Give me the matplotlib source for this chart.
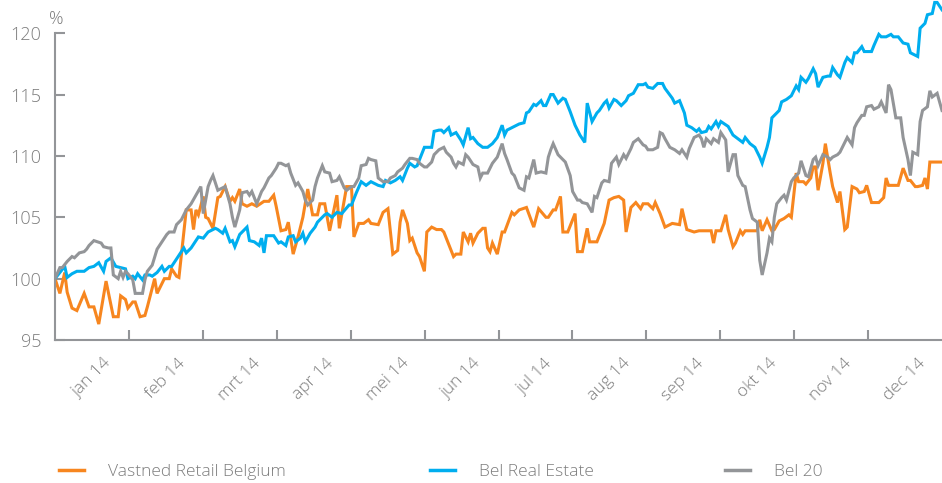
import matplotlib
matplotlib.use("Agg")
import matplotlib.pyplot as plt
from matplotlib.lines import Line2D

plt.rcParams['font.family'] = ['Open Sans', 'DejaVu Sans']
plt.rcParams['font.weight'] = 'light'

# day of year (0 = 1 jan 2014, 365 = 31 dec), index 1/1/2014 = 100
vastned_days = [0, 2, 4, 5, 7, 9, 12, 14, 16, 18, 21, 24, 26, 27, 29, 30, 32, 33, 35, 37, 38, 41, 42, 45, 47, 48, 50, 51,
                54, 56, 57, 58, 59, 61, 62, 63, 65, 67, 68, 70, 72, 73, 74, 76, 77, 79, 81, 83, 86, 88, 90, 91, 93, 95,
                96, 98, 100, 102, 104, 106, 108, 109, 111, 113, 116, 117, 120, 122, 123, 125, 127, 129, 130, 133, 135,
                137, 139, 141, 142, 143, 145, 146, 147, 149, 150, 152, 153, 155, 157, 159, 160, 163, 164, 165, 167, 168,
                170, 171, 172, 174, 176, 177, 178, 179, 180, 182, 184, 185, 188, 189, 191, 194, 197, 199, 202, 203, 205,
                206, 208, 209, 211, 214, 215, 217, 219, 220, 223, 225, 226, 228, 230, 232, 234, 235, 237, 239, 241, 242,
                244, 246, 247, 249, 251, 254, 257, 258, 260, 263, 265, 270, 271, 272, 274, 276, 277, 279, 280, 282, 283,
                284, 289, 290, 291, 293, 295, 296, 298, 300, 302, 303, 305, 306, 308, 309, 311, 312, 313, 314, 316, 317,
                319, 320, 322, 323, 325, 326, 328, 330, 331, 333, 334, 336, 339, 341, 342, 343, 347, 349, 351, 352, 354,
                355, 357, 358, 359, 360, 365]
vastned = [100, 98.8, 100.5, 98.9, 97.6, 97.4, 98.8, 97.7, 97.7, 96.3, 99.8, 96.9, 96.9, 98.6, 98.3, 97.6, 98.1, 98.1,
           96.9, 97.0, 97.7, 100, 98.8, 100, 100, 100.8, 100.2, 100.1,
           105.6, 105.6, 104.0, 105.6, 105.2, 106.7, 105.0, 104.9, 104.1, 106.6, 106.7, 107.5, 106.3, 106.6, 106.3,
           107.3, 106.1, 105.9, 106.1, 105.9, 106.3, 106.3, 106.8, 105.9, 103.9, 104.0,
           104.6, 102.0, 103.4, 105.0, 107.3, 105.2, 105.2, 106.1, 106.1, 103.9, 106.8, 104.1, 107.5, 107.5, 103.4,
           104.5, 104.5, 104.8, 104.5, 104.4, 105.4,
           105.7, 102.0, 102.3, 104.6, 105.6, 104.5, 103.1, 103.3, 102.1, 101.8, 100.6, 103.8, 104.2, 104.0, 104.0,
           103.8, 102.3, 101.8, 102.0, 102.0, 103.8,
           103.0, 103.7, 102.9, 103.7, 104.1, 104.1, 102.5, 102.2, 102.9, 102.0, 103.8, 103.8, 105.4, 105.2, 105.6,
           105.8, 104.2, 105.7, 105.0, 105.0, 105.6,
           105.6, 106.7, 103.8, 103.8, 105.3, 102.2, 102.2, 104.1, 103.0, 103.0, 104.0, 104.5, 106.4, 106.6, 106.7,
           106.4, 103.8, 105.8, 106.2, 105.7, 106.1,
           106.1, 105.7, 106.2, 105.3, 104.2, 104.5, 104.4, 105.7, 104.0, 103.8, 103.9, 103.9, 102.9, 103.9, 103.9,
           105.2, 104.0, 102.6, 102.9, 103.9, 103.6,
           103.9, 103.9, 104.8, 103.9, 104.8, 103.9, 104.0, 104.7, 104.9, 105.2, 105.0, 108.6, 107.9, 107.9, 107.7,
           108.2, 109.1, 109.1, 107.2, 109.4, 111.0,
           108.6, 107.5, 106.2, 107.1, 104.0, 104.2, 107.5, 107.3, 107.0, 107.1, 107.6, 106.2, 106.2, 106.6, 108.2,
           107.6, 107.6, 109.0, 108.0, 108.0, 107.5,
           107.5, 107.6, 108.2, 107.3, 109.5, 109.5]

realestate_days = [0, 2, 4, 5, 7, 9, 12, 14, 16, 18, 20, 21, 23, 25, 27, 29, 30, 32, 33, 34, 36, 37, 39, 40, 42, 44, 45,
                   47, 48, 50, 53, 54, 56, 59, 61, 63, 66, 67, 69, 70, 72, 73, 74, 76, 77, 79, 80, 82, 84, 85, 86, 87,
                   90, 92, 93, 95, 96, 98, 99, 101, 102, 103, 105, 107, 108, 110, 111, 112, 114, 116, 118, 121, 122,
                   124, 126, 128, 130, 133, 135, 136, 138, 140, 142, 143, 145, 146, 148, 149, 152, 155, 156, 158, 159,
                   160, 162, 163, 165, 167, 168, 170, 171, 172, 174, 176, 178, 180, 182, 184, 185, 186, 188, 191, 193,
                   194, 195, 197, 198, 200, 201, 202, 204, 205, 207, 209, 210, 212, 214, 216, 218, 219, 221, 223, 224,
                   226, 227, 228, 230, 231, 233, 235, 236, 238, 240, 242, 243, 244, 246, 248, 250, 251, 254, 255, 257,
                   259, 260, 262, 264, 265, 266, 268, 269, 270, 272, 273, 274, 277, 279, 281, 283, 284, 286, 288, 290,
                   291, 293, 294, 295, 298, 299, 301, 303, 305, 306, 307, 309, 310, 312, 313, 314, 316, 318, 319, 320,
                   322, 323, 325, 326, 328, 329, 330, 332, 333, 336, 337, 339, 340, 342, 344, 345, 347, 349, 351, 352,
                   355, 356, 358, 359, 361, 362, 363, 365]
realestate = [100, 100.5, 101.0, 100.1, 100.4, 100.6, 100.6, 100.9, 101.0, 101.3, 100.6, 101.4, 101.7, 101.0, 100.9,
              100.8, 100.0, 100.2, 100.0, 100.4, 99.9, 100.3, 100.3, 100.2, 100.5, 101.0, 100.6,
              101.0, 101.0, 101.6, 102.5, 102.1, 102.5, 103.4, 103.3, 103.8, 104.1, 104.0, 103.7, 104.1, 103.0, 103.1,
              102.6, 103.6, 103.8, 104.2, 103.1, 103.0, 102.7, 103.3, 102.1, 103.5,
              103.5, 102.9, 103.0, 102.7, 103.4, 103.5, 103.0, 103.3, 103.7, 103.0, 103.7, 104.2, 104.6, 105.0, 105.2,
              105.3, 105.0, 105.4, 105.3, 106.0, 106.0,
              107.0, 107.9, 107.6, 107.9, 107.6, 107.5, 108.0, 107.8, 108.0, 108.3, 108.0, 109.0, 109.4, 109.1, 109.2,
              110.7, 110.7, 112.0, 112.1, 112.1,
              111.9, 112.3, 111.7, 111.9, 111.3, 110.9, 112.3, 111.4, 111.5, 111.0, 110.7, 110.7, 111.0, 111.5, 112.5,
              111.7, 112.1, 112.3, 112.6, 112.7,
              113.5, 113.6, 114.2, 114.1, 114.5, 114.1, 114.1, 115.0, 115.0, 114.3, 114.7, 114.6, 113.6, 112.5, 111.7,
              111.1, 114.3, 112.8, 113.5, 113.7,
              114.3, 114.5, 113.9, 114.6, 114.5, 114.1, 114.5, 114.9, 115.1, 115.8, 115.8, 115.9, 115.6, 115.5, 115.9,
              115.9, 115.5, 114.7, 114.3, 114.5,
              113.5, 112.5, 112.3, 112.0, 112.2, 111.9, 112.0, 112.4, 112.2, 112.8, 112.4, 112.8, 112.4, 111.7, 111.4,
              111.1, 111.5, 111.0, 110.7, 109.9,
              109.4, 110.7, 111.5, 113.1, 113.7, 114.4, 114.6, 114.9, 115.7, 115.4, 116.4, 116.0, 116.3, 117.1, 116.7,
              115.6, 116.4, 116.5, 116.5, 117.2,
              116.6, 116.4, 117.6, 118.0, 117.6, 118.4, 118.4, 118.9, 118.5, 118.5, 119.0, 119.9, 119.7, 119.7, 119.9,
              119.7, 119.7, 119.2, 119.1, 118.4,
              118.1, 120.4, 120.8, 121.5, 121.6, 122.5, 122.5, 121.9]

bel20_days = [0, 2, 3, 5, 7, 8, 10, 12, 13, 14, 16, 19, 20, 22, 23, 24, 26, 27, 28, 29, 30, 32, 33, 34, 36, 37, 38, 40,
              42, 43, 44, 46, 47, 49, 50, 52, 54, 56, 58, 60, 61, 63, 64, 65, 67, 69, 70, 72, 73, 74, 76, 77, 79, 80,
              81, 83, 84, 85, 86, 88, 89, 91, 92, 93, 95, 96, 97, 99, 100, 102, 103, 104, 106, 107, 108, 110, 111, 113,
              114, 116, 117, 119, 120, 122, 123, 125, 126, 128, 129, 130, 132, 133, 135, 137, 138, 140, 141, 143, 144,
              146, 147, 149, 150, 152, 153, 155, 156, 158, 160, 161, 163, 164, 165, 166, 168, 169, 170, 172, 174, 175,
              176, 178, 180, 182, 184, 185, 186, 188, 189, 191, 193, 194, 195, 197, 198, 200, 202, 203, 204, 205, 207,
              208, 210, 212, 213, 215, 216, 217, 219, 221, 222, 223, 225, 226, 228, 229, 231, 232, 234, 235, 237, 238,
              240, 242, 243, 244, 246, 248, 249, 250, 251, 253, 255, 257, 258, 260, 261, 263, 265, 266, 267, 268, 270,
              271, 273, 274, 276, 277, 279, 280, 281, 283, 284, 286, 287, 289, 290, 291, 293, 294, 295, 296, 297, 299,
              300, 301, 303, 304, 306, 307, 309, 310, 312, 313, 314, 316, 318, 319, 320, 322, 323, 325, 326, 328, 329,
              330, 332, 333, 334, 336, 337, 339, 340, 342, 343, 344, 346, 348, 349, 351, 352, 353, 355, 356, 357, 359,
              360, 361, 363, 365]
bel20 = [100, 100.9, 100.9, 101.4, 101.8, 101.7, 102.1, 102.2, 102.4, 102.7, 103.1, 102.9, 102.6, 102.5, 102.5, 100.3,
         100.0, 100.6, 100.1, 100.6, 100.4, 99.9, 98.8, 98.8, 98.8, 99.9, 100.6, 101.1,
         102.4, 102.7, 103.0, 103.6, 103.8, 103.8, 104.4, 104.8, 105.6, 106.1, 106.8, 107.5, 105.3, 107.5, 108.0,
         108.4, 107.2, 107.4, 107.5, 106.1, 105.0, 104.2, 105.6, 107.0, 107.1, 106.8,
         107.1, 106.1, 106.6, 107.1, 107.4, 108.2, 108.4, 109.0, 109.4, 109.4, 109.2, 109.3, 108.6, 107.6, 107.8,
         107.1, 106.4, 106.0, 106.4, 107.5, 108.2, 109.2, 108.7, 108.6,
         107.9, 108.0, 108.3, 107.4, 107.2, 107.5, 107.5, 108.2, 109.2, 109.3, 109.8, 109.7, 109.6, 108.2, 107.9,
         107.9, 108.2, 108.4, 108.7, 109.0, 109.3,
         109.8, 109.8, 109.7, 109.4, 109.1, 109.1, 109.5, 110.1, 110.5, 110.7, 110.3, 109.9, 109.4, 109.1, 109.5,
         109.3, 110.1, 109.9, 109.3, 109.1, 108.2,
         108.6, 108.6, 109.4, 109.9, 111.0, 110.2, 109.7, 108.6, 108.4, 107.4, 107.2, 108.3, 108.2, 109.7, 108.6,
         108.7, 108.6, 109.9, 110.5, 111.0, 110.1,
         109.9, 109.5, 108.4, 107.1, 106.4, 106.4, 106.2, 106.1, 105.4, 106.7, 106.6, 107.8, 108.0, 107.9, 109.4,
         109.9, 109.3, 110.1, 109.8, 110.6, 111.1,
         111.4, 110.9, 110.8, 110.5, 110.5, 110.7, 111.9, 111.8, 111.4, 110.7, 110.5, 110.2, 110.5, 109.9, 110.6,
         111.5, 111.7, 111.4, 110.7, 111.4, 111.0,
         111.4, 111.1, 111.9, 111.3, 108.7, 110.1, 110.1, 108.4, 107.6, 107.5, 105.6, 104.9, 104.6, 101.5, 100.3,
         102.1, 103.3, 103.0, 105.0, 106.1, 106.6,
         106.8, 106.4, 107.9, 108.2, 108.6, 109.6, 108.4, 108.3, 109.7, 109.9, 109.2, 110.1, 109.9, 109.7, 109.9,
         110.1, 110.3, 111.1, 111.5, 110.9, 112.3,
         112.7, 113.3, 113.3, 114.0, 114.1, 113.8, 114.0, 114.4, 113.5, 115.8, 115.4, 113.1, 113.1, 111.5, 109.7,
         108.4, 110.3, 110.1, 112.8, 113.7, 114.0,
         115.3, 114.8, 115.1, 113.7]

months = ['jan 14', 'feb 14', 'mrt 14', 'apr 14', 'mei 14', 'jun 14', 'jul 14', 'aug 14', 'sep 14', 'okt 14',
          'nov 14', 'dec 14']
series_names = ['Vastned Retail Belgium', 'Bel Real Estate', 'Bel 20']

orange = '#f7861f'
blue = '#00aeef'
grey = '#939598'
axis_col = '#939598'
text_col = '#7d7d7d'

fig = plt.figure(figsize=(9.42, 4.83), dpi=100)
ax = fig.add_axes([0.0584, 0.296, 0.9416, 0.704])

ax.plot(vastned_days, vastned, color=orange, lw=2.2, solid_joinstyle='miter')
ax.plot(realestate_days, realestate, color=blue, lw=2.2, solid_joinstyle='miter')
ax.plot(bel20_days, bel20, color=grey, lw=2.2, solid_joinstyle='miter')

month_len = 365 / 12
ax.set_xlim(0, 365)
ax.set_ylim(95, 122.7)
ax.set_xticks([month_len * i for i in range(1, 12)])
ax.set_xticklabels([])
ax.set_xticks([month_len * (i + 0.5) for i in range(12)], minor=True)
ax.set_xticklabels(months, minor=True, rotation=45, ha='center')
ax.tick_params(axis='x', which='major', direction='in', length=7, width=1.5, color=axis_col)
ax.tick_params(axis='x', which='minor', length=0, pad=11, labelsize=12.5, labelcolor=text_col)

ax.set_yticks([95, 100, 105, 110, 115, 120])
ax.tick_params(axis='y', direction='in', length=7, width=1.5, color=axis_col, pad=10,
               labelsize=13, labelcolor=text_col)

for s in ['top', 'right']:
    ax.spines[s].set_visible(False)
for s in ['left', 'bottom']:
    ax.spines[s].set_color(axis_col)
    ax.spines[s].set_linewidth(1.5)
ax.spines['left'].set_bounds(95, 120)

fig.text(56 / 942, 1 - 19 / 483, '%', ha='center', va='center', fontsize=13, color=text_col)

# legend, three separate entries along the bottom
for name, col, xpos in zip(series_names, [orange, blue, grey], [0.063, 0.457, 0.770]):
    h = Line2D([], [], color=col, lw=2.5)
    fig.legend([h], [name], loc='center left', bbox_to_anchor=(xpos, 1 - 472 / 483), frameon=False,
               borderpad=0, borderaxespad=0, handlelength=1.4, handletextpad=1.4, labelcolor=text_col,
               prop={'size': 12.5, 'weight': 'light'})

fig.savefig('out.png', dpi=100)
